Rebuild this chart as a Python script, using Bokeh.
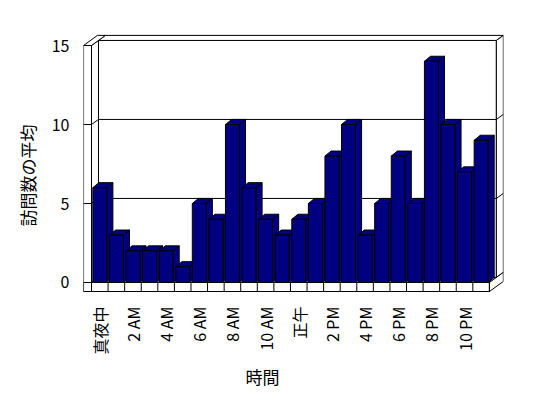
import math
from bokeh.plotting import figure
from bokeh.models import FixedTicker, Title
from bokeh.embed import file_html
from bokeh.resources import INLINE

# ---- data ----
hours = ["真夜中", "1 AM", "2 AM", "3 AM", "4 AM", "5 AM", "6 AM", "7 AM",
         "8 AM", "9 AM", "10 AM", "11 AM", "正午", "1 PM", "2 PM", "3 PM",
         "4 PM", "5 PM", "6 PM", "7 PM", "8 PM", "9 PM", "10 PM", "11 PM"]
visits = [6, 3, 2, 2, 2, 1, 5, 4, 10, 6, 4, 3, 4, 5, 8, 10, 3, 5, 8, 5, 14, 10, 7, 9]
y_ticks = [0, 5, 10, 15]
x_title = "時間"
y_title = "訪問数の平均"

# ---- styling constants ----
FONT = "Noto Sans CJK JP"
NAVY = "#000080"
N = len(hours)
XF0, XF1 = -0.5, N - 0.5          # front plane x extent
YMAX = y_ticks[-1]
DX, DY = 0.42, 0.32               # wall depth offset
SL = 0.48                         # left slab thickness
FT = 0.57                         # floor thickness
W = 0.84                          # bar width
BDX, BDY = 0.37, 0.32             # bar depth offset

p = figure(frame_width=420, frame_height=259, x_range=(-0.983, 24.35), y_range=(-0.633, 15.76),
           output_backend="svg", toolbar_location=None,
           min_border_left=83, min_border_right=29, min_border_top=33, min_border_bottom=90)
p.outline_line_color = None
p.xgrid.visible = False
p.ygrid.visible = False
p.background_fill_color = "white"
p.border_fill_color = "white"

# ---- axes ----
p.xaxis.ticker = FixedTicker(ticks=list(range(0, N, 2)))
p.xaxis.major_label_overrides = {i: hours[i] for i in range(0, N, 2)}
p.xaxis.major_label_orientation = math.pi / 2
p.xaxis.major_label_standoff = 8
p.yaxis.ticker = FixedTicker(ticks=y_ticks)
p.yaxis.major_label_standoff = 8
for ax in (p.xaxis, p.yaxis):
    ax.axis_line_color = None
    ax.major_tick_line_color = None
    ax.minor_tick_line_color = None
    ax.major_label_text_font = FONT
    ax.major_label_text_font_size = "16px"
    ax.major_label_text_color = "black"

# ---- walls / floor ----
walls_x, walls_y = [], []
def poly(xs, ys):
    walls_x.append(xs); walls_y.append(ys)

poly([XF0 + DX, XF1 + DX, XF1 + DX, XF0 + DX], [DY, DY, YMAX + DY, YMAX + DY])
poly([XF0 + DX, XF1 + DX, XF1 + 2 * DX, XF0 + 2 * DX],
     [YMAX + DY, YMAX + DY, YMAX + 2 * DY, YMAX + 2 * DY])
poly([XF1 + DX, XF1 + DX, XF1 + 2 * DX, XF1 + 2 * DX],
     [DY, YMAX + DY, YMAX + 2 * DY, 2 * DY])
poly([XF0, XF0, XF0 + DX, XF0 + DX], [0, YMAX, YMAX + DY, DY])
poly([XF0, XF1, XF1 + DX, XF0 + DX], [0, 0, DY, DY])
poly([XF1, XF1, XF1 + 2 * DX, XF1 + 2 * DX], [-FT, 0, 2 * DY, 2 * DY - FT])
poly([XF0 - SL, XF0, XF0 + 2 * DX, XF0 - SL + 2 * DX],
     [YMAX, YMAX, YMAX + 2 * DY, YMAX + 2 * DY])
p.patches(walls_x, walls_y, fill_color="white", line_color="black", line_width=1)

# gridlines
gx, gy = [], []
for v in y_ticks[1:-1]:
    gx.append([XF0, XF0 + DX, XF1 + DX, XF1 + 2 * DX])
    gy.append([v, v + DY, v + DY, v + 2 * DY])
p.multi_line(gx, gy, line_color="black", line_width=1)

# ---- bars (side, top, front per bar, left to right) ----
bx, by = [], []
for i, v in enumerate(visits):
    l, r = i - W / 2, i + W / 2
    bx.append([r, r + BDX, r + BDX, r]); by.append([0, BDY, v + BDY, v])
    bx.append([l, r, r + BDX, l + BDX]); by.append([v, v, v + BDY, v + BDY])
    bx.append([l, r, r, l]); by.append([0, 0, v, v])
p.patches(bx, by, fill_color=NAVY, line_color="black", line_width=1)

# ---- front slabs ----
p.patches([[XF0 - SL, XF1, XF1, XF0 - SL], [XF0 - SL, XF0, XF0, XF0 - SL]],
          [[-FT, -FT, 0, 0], [-FT, -FT, YMAX, YMAX]],
          fill_color="white", line_color="black", line_width=1)
tx = [[XF0 + k, XF0 + k] for k in range(N + 1)] + [[XF0 - SL, XF0] for _ in y_ticks[:-1]]
ty = [[-FT, 0] for _ in range(N + 1)] + [[v, v] for v in y_ticks[:-1]]
p.multi_line(tx, ty, line_color="black", line_width=1)

# ---- titles ----
p.add_layout(Title(text=x_title, align="left", offset=162, standoff=9,
                   text_font=FONT, text_font_size="17px", text_font_style="normal",
                   text_color="black"), "below")
p.add_layout(Title(text=y_title, align="left", offset=66, standoff=17,
                   text_font=FONT, text_font_size="17px", text_font_style="normal",
                   text_color="black"), "left")

open("out.html", "w").write(file_html(p, INLINE))
